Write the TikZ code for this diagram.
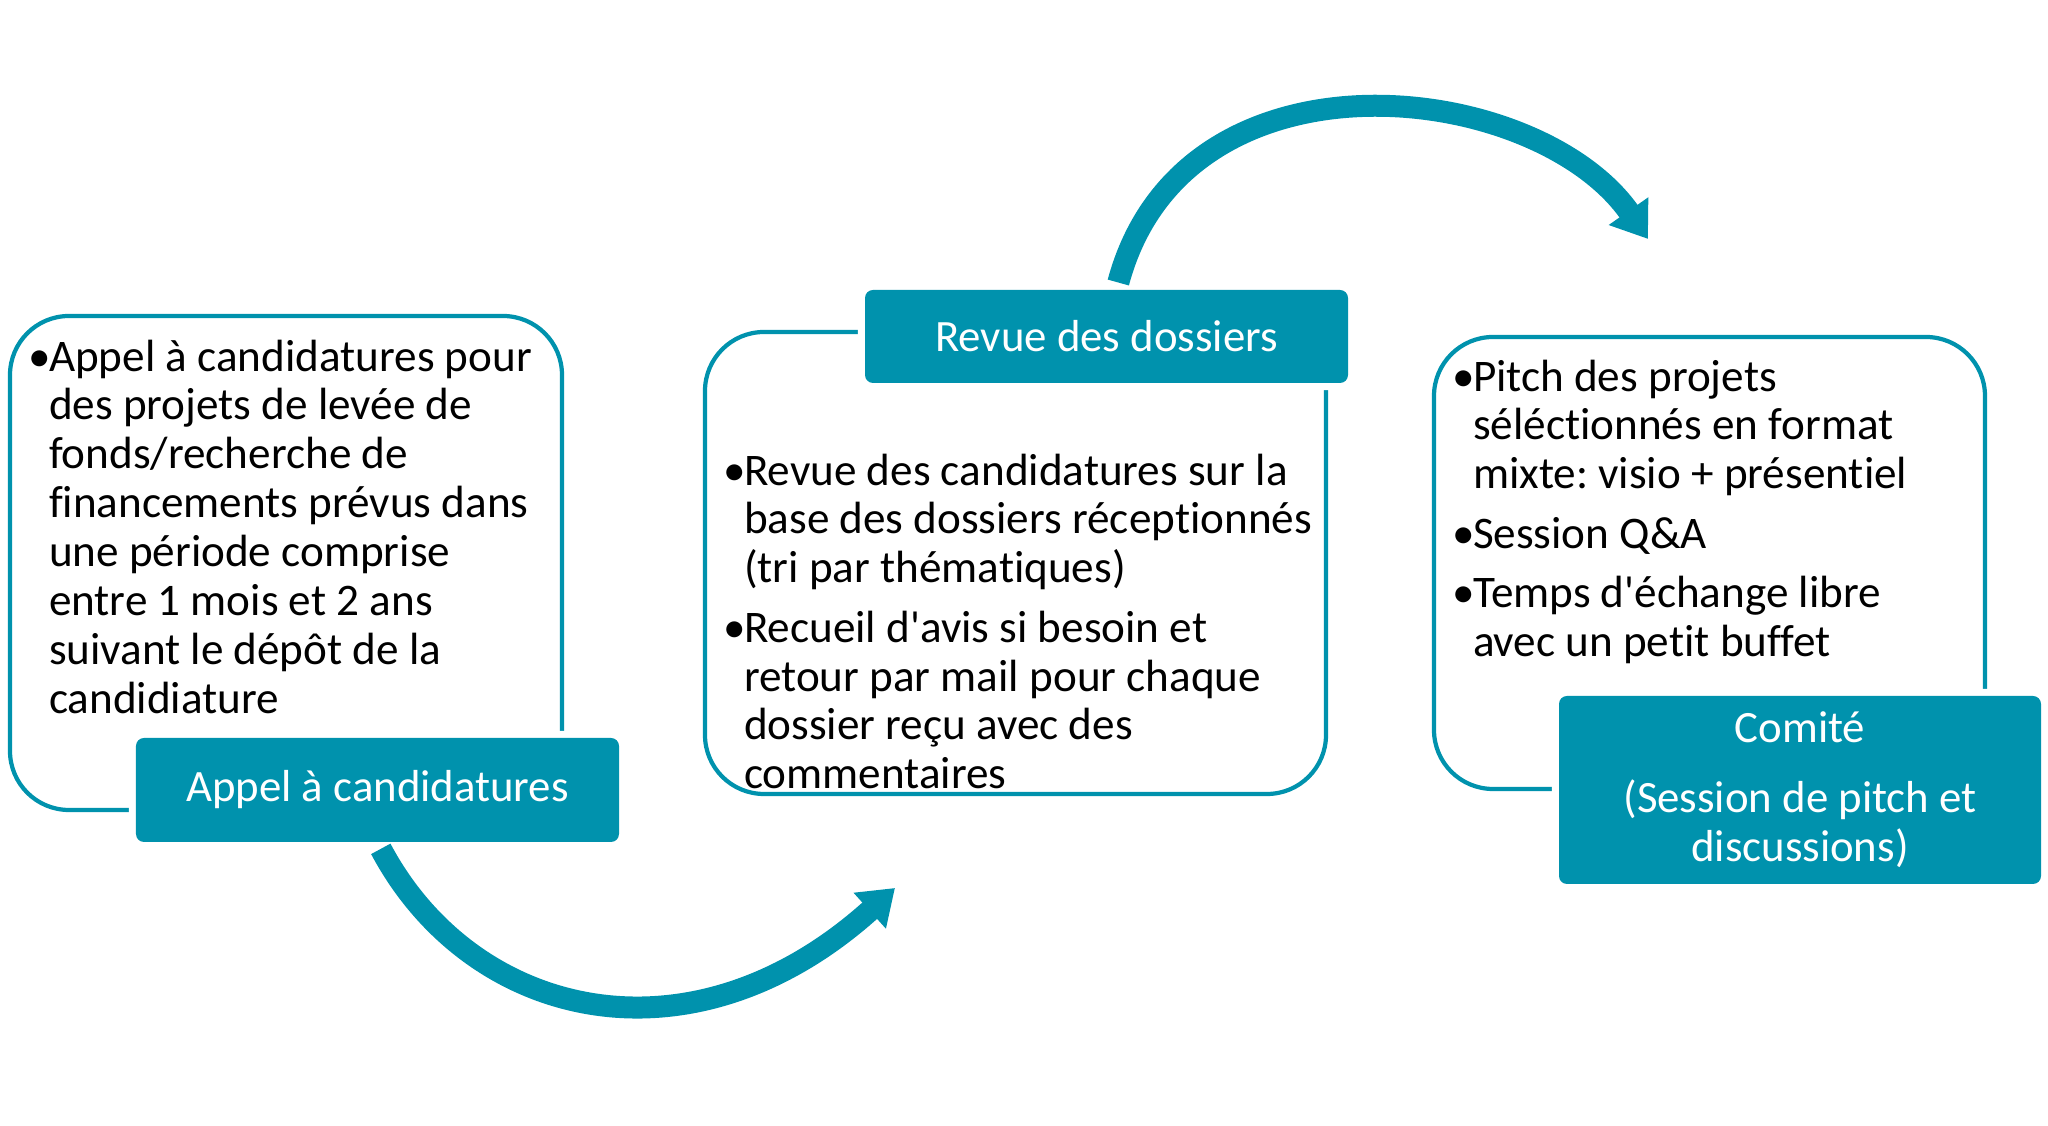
\documentclass[tikz,border=0pt]{standalone}
\usepackage{fontspec}
\setmainfont{Carlito}[Ligatures=NoCommon]
\usetikzlibrary{arrows.meta}
\definecolor{sarcelle}{HTML}{0092AD}
\newcommand{\puce}{\makebox[0.45em][l]{•}}
\newcommand{\retrait}{\hspace*{0.45em}}
\frenchspacing
\begin{document}
\begin{tikzpicture}[
    cadre/.style={draw=sarcelle, line width=1.2pt, rounded corners=0.59cm, fill=white},
    etiquette/.style={fill=sarcelle, rounded corners=0.08cm, text=white, align=center,
      preaction={draw=white, line width=4pt},
      font=\fontsize{12.75}{13.9}\selectfont},
    texte/.style={anchor=north west, align=left, inner sep=0pt,
      font=\fontsize{12.85}{13.9}\selectfont},
    fleche/.style={draw=sarcelle, line width=0.22cm,
      -{Triangle[width=0.46cm,length=0.34cm]}}
  ]
  \useasboundingbox (0,0) rectangle (20.48,11.26);

  % draw the three outlined boxes
  \node[cadre, minimum width=5.52cm, minimum height=4.94cm] (cadreappel) at (2.86,5.63) {};
  \node[cadre, minimum width=6.21cm, minimum height=4.62cm] (cadrerevue) at (10.155,5.63) {};
  \node[cadre, minimum width=5.51cm, minimum height=4.52cm] (cadrecomite) at (17.095,5.63) {};

  % draw nodes to add the texts
  \node[texte] (txtappel) at (0.28,7.87) {\puce Appel à candidatures pour\\
    \retrait des projets de levée de\\
    \retrait fonds/recherche de\\
    \retrait financements prévus dans\\
    \retrait une période comprise\\
    \retrait entre 1 mois et 2 ans\\
    \retrait suivant le dépôt de la\\
    \retrait candidiature};
  \node[texte] (txtrevue) at (7.23,6.73) {\puce Revue des candidatures sur la\\
    \retrait base des dossiers réceptionnés\\
    \retrait (tri par thématiques)\\[3pt]
    \puce Recueil d\textquotesingle avis si besoin et\\
    \retrait retour par mail pour chaque\\
    \retrait dossier reçu avec des\\
    \retrait commentaires};
  \node[texte] (txtcomite) at (14.52,7.67) {\puce Pitch des projets\\
    \retrait séléctionnés en format\\
    \retrait mixte: visio + présentiel\\[3pt]
    \puce Session Q\&A\\[3pt]
    \puce Temps d\textquotesingle échange libre\\
    \retrait avec un petit buffet};

  % draw the filled labels
  \node[etiquette, minimum width=4.83cm, minimum height=1.04cm] (appel) at (3.775,3.36) {Appel à candidatures};
  \node[etiquette, minimum width=4.83cm, minimum height=0.93cm] (revue) at (11.065,7.895) {Revue des dossiers};
  \node[etiquette, minimum width=4.82cm, minimum height=1.88cm] (comite) at (18.0,3.36) {Comité\\[6pt](Session de pitch et\\discussions)};

  % draw the curved arrows
  \coordinate (pointeA) at (8.95,2.38);
  \coordinate (pointeB) at (16.48,8.87);
  \draw[fleche, shorten <=0.07cm] (appel.south) .. controls +(-62:2.0) and +(222:2.75) .. (pointeA);
  \draw[fleche, shorten <=0.07cm] ([xshift=0.1cm]revue.north) .. controls +(75:2.6) and +(125:1.95) .. (pointeB);
\end{tikzpicture}
\end{document}
